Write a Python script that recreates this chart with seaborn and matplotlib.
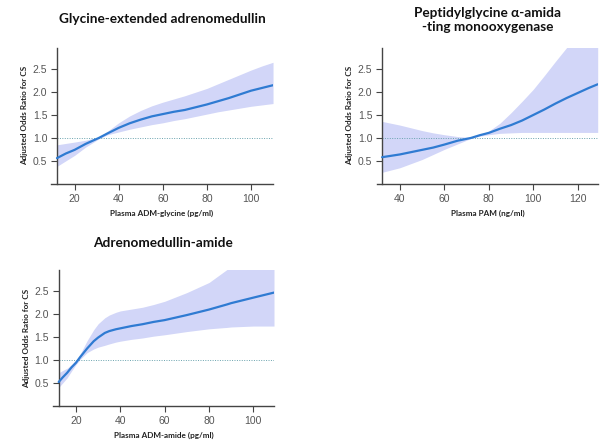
import matplotlib
matplotlib.use("Agg")
import matplotlib.pyplot as plt
import seaborn as sns
import pandas as pd

# Glycine-extended adrenomedullin (ADM-glycine, pg/ml)
gly_x = [12, 16, 20, 25, 31, 35, 40, 45, 50, 55, 60, 65, 70, 75, 80, 85, 90, 95, 100, 105, 110]
gly_or = [0.56, 0.66, 0.74, 0.87, 1.00, 1.10, 1.22, 1.32, 1.40, 1.47, 1.52, 1.57, 1.61, 1.67,
          1.73, 1.80, 1.87, 1.95, 2.03, 2.09, 2.15]
gly_lo = [0.38, 0.50, 0.62, 0.80, 0.98, 1.07, 1.13, 1.19, 1.24, 1.29, 1.33, 1.38, 1.42, 1.47,
          1.52, 1.57, 1.61, 1.65, 1.69, 1.72, 1.75]
gly_hi = [0.85, 0.88, 0.91, 0.95, 1.02, 1.15, 1.33, 1.48, 1.60, 1.70, 1.78, 1.85, 1.92, 2.00,
          2.08, 2.18, 2.28, 2.38, 2.48, 2.57, 2.65]

# Peptidylglycine alpha-amidating monooxygenase (PAM, ng/ml)
pam_x = [32, 36, 40, 45, 50, 55, 60, 66, 72, 76, 80, 85, 90, 95, 100, 105, 110, 115, 120, 125, 129]
pam_or = [0.58, 0.61, 0.64, 0.69, 0.74, 0.79, 0.855, 0.94, 1.00, 1.06, 1.11, 1.20, 1.28, 1.38,
          1.50, 1.62, 1.75, 1.87, 1.98, 2.09, 2.17]
pam_lo = [0.25, 0.30, 0.35, 0.44, 0.53, 0.64, 0.75, 0.87, 0.99, 1.04, 1.07, 1.10, 1.11, 1.12,
          1.12, 1.12, 1.12, 1.12, 1.12, 1.12, 1.12]
pam_hi = [1.36, 1.32, 1.28, 1.22, 1.16, 1.11, 1.07, 1.03, 1.01, 1.07, 1.15, 1.32, 1.55, 1.80,
          2.06, 2.36, 2.67, 2.97, 3.30, 3.65, 4.00]

# Adrenomedullin-amide (ADM-amide, pg/ml)
ami_x = [12.2, 14, 16, 18, 20, 22, 25, 28, 30, 33, 35, 38, 40, 45, 50, 55, 60, 70, 80, 88, 90,
         100, 109.3]
ami_or = [0.52, 0.62, 0.72, 0.84, 0.94, 1.07, 1.25, 1.41, 1.49, 1.59, 1.63, 1.67, 1.69, 1.74,
          1.78, 1.83, 1.87, 1.98, 2.10, 2.21, 2.24, 2.36, 2.47]
ami_lo = [0.40, 0.50, 0.61, 0.76, 0.90, 1.02, 1.16, 1.24, 1.28, 1.32, 1.35, 1.39, 1.41, 1.45,
          1.48, 1.52, 1.55, 1.62, 1.68, 1.71, 1.72, 1.74, 1.74]
ami_hi = [0.72, 0.77, 0.82, 0.90, 1.00, 1.14, 1.42, 1.66, 1.79, 1.92, 1.98, 2.04, 2.07, 2.11,
          2.15, 2.21, 2.28, 2.47, 2.69, 2.97, 3.05, 3.50, 3.90]

y_ticks = [0.5, 1.0, 1.5, 2.0, 2.5]
y_label = "Adjusted Odds Ratio for CS"

# xlim starts a little left of the y spine so the x axis line overhangs it
panels = [
    dict(title="Glycine-extended adrenomedullin", xlabel="Plasma ADM-glycine (pg/ml)",
         x=gly_x, y=gly_or, lo=gly_lo, hi=gly_hi, xlim=(9.3, 110), spine_x=12,
         xticks=[20, 40, 60, 80, 100], rect=[0.0849, 0.587, 0.3694, 0.305], pad=18),
    dict(title="Peptidylglycine \u03b1-amida\n-ting monooxygenase", xlabel="Plasma PAM (ng/ml)",
         x=pam_x, y=pam_or, lo=pam_lo, hi=pam_hi, xlim=(29.7, 129), spine_x=32,
         xticks=[40, 60, 80, 100, 120], rect=[0.6273, 0.587, 0.3672, 0.305], pad=12),
    dict(title="Adrenomedullin-amide", xlabel="Plasma ADM-amide (pg/ml)",
         x=ami_x, y=ami_or, lo=ami_lo, hi=ami_hi, xlim=(9.5, 109.3), spine_x=12.2,
         xticks=[20, 40, 60, 80, 100], rect=[0.0877, 0.088, 0.3682, 0.305], pad=17),
]

sns.set_style("ticks")
plt.rcParams["font.family"] = ["Liberation Sans", "DejaVu Sans"]

LINE = "#2f7bd2"
BAND = "#d2d6f8"
REF = "#6aa3ae"
TICK = "#555555"
SPINE = "#444444"

fig = plt.figure(figsize=(6.01, 4.45), dpi=100)

for p in panels:
    ax = fig.add_axes(p["rect"])
    df = pd.DataFrame({"x": p["x"], "y": p["y"], "lo": p["lo"], "hi": p["hi"]})
    ax.fill_between(df["x"], df["lo"], df["hi"], color=BAND, linewidth=0, zorder=1)
    ax.hlines(1.0, p["spine_x"], p["xlim"][1], color=REF, linestyle=(0, (1, 1.5)),
              linewidth=0.7, zorder=2)
    sns.lineplot(data=df, x="x", y="y", ax=ax, color=LINE, linewidth=1.6, zorder=3,
                 solid_joinstyle="round", solid_capstyle="round")
    ax.set_xlim(*p["xlim"])
    ax.set_ylim(0, 2.96)
    ax.set_xticks(p["xticks"])
    ax.set_yticks(y_ticks)
    ax.set_yticklabels([f"{v:.1f}" for v in y_ticks])
    ax.tick_params(axis="both", labelsize=7.5, labelcolor=TICK, color=SPINE,
                   length=4, width=0.8, pad=3)
    for s in ("top", "right"):
        ax.spines[s].set_visible(False)
    ax.spines["left"].set_position(("data", p["spine_x"]))
    for s in ("left", "bottom"):
        ax.spines[s].set_color(SPINE)
        ax.spines[s].set_linewidth(1.0)
    ax.set_xlabel(p["xlabel"], fontsize=5.9, fontweight="bold", family="Lato",
                  color="#222222", labelpad=4.5)
    ax.set_ylabel(y_label, fontsize=5.9, fontweight="bold", family="Lato",
                  color="#222222", labelpad=3.5)
    ax.set_title(p["title"], fontsize=9.8, fontweight="bold", family="Lato",
                 color="#111111", pad=p["pad"], linespacing=1.2)

fig.savefig("out.png", dpi=100)
